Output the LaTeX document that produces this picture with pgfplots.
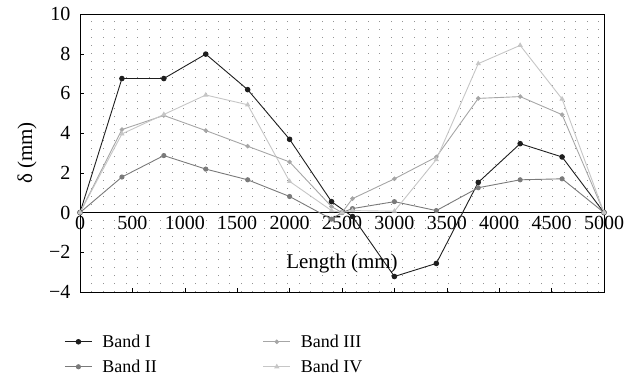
\documentclass[border=0pt]{standalone}
\usepackage{fontspec}
\setmainfont{Liberation Serif}
\usepackage{pgfplots}
\pgfplotsset{compat=1.18}
\definecolor{cI}{HTML}{1E1E1E}
\definecolor{cII}{HTML}{7A7A7A}
\definecolor{cIII}{HTML}{A6A6A6}
\definecolor{cIV}{HTML}{C6C6C6}
\begin{document}
\begin{tikzpicture}
\begin{axis}[
  scale only axis, width=524pt, height=278pt,
  xmin=0, xmax=5000, ymin=-4, ymax=10,
  xtick={0,500,...,5000}, ytick={-4,-2,...,10},
  yticklabels={−4,−2,0,2,4,6,8,10},
  minor xtick={110,220,...,4950},
  minor tick length=0pt,
  xminorgrids=true,
  minor grid style={gray!85, line width=0.9pt, dash pattern=on 0.9pt off 7.04pt},
  /pgf/number format/assume math mode=true,
  /pgf/number format/set thousands separator={},
  tick label style={font=\fontsize{20}{22}\selectfont},
  label style={font=\fontsize{21}{23}\selectfont},
  xticklabel style={yshift=79.4pt},
  yticklabel style={xshift=-6pt},
  tick pos=left,
  tick style={black, thin},
  axis line style={black, line width=0.9pt},
  extra y ticks={0}, extra y tick labels={},
  extra y tick style={grid=major, major grid style={black, solid, line width=0.8pt}},
  xlabel={Length (mm)},
  ylabel={δ (mm)},
  xlabel style={at={(axis description cs:0.5,0.104)}, anchor=center},
  ylabel style={at={(axis description cs:-0.101,0.5)}, anchor=center},
  legend columns=2,
  transpose legend,
  legend cell align=left,
  legend style={at={(axis description cs:-0.03,-0.146)}, anchor=north west,
    draw=none, fill=none, inner sep=0pt, font=\fontsize{18}{20}\selectfont,
    /tikz/every odd column/.append style={column sep=8pt},
    /tikz/every even column/.append style={column sep=104pt},
    row sep=7pt},
  legend image code/.code={\draw[mark repeat=2,mark phase=2,#1] plot coordinates {(0pt,0pt)(13.5pt,0pt)(27pt,0pt)};},
  every axis plot/.append style={line width=0.9pt},
]
\addplot[cI, mark=*, mark size=2.3pt] coordinates {
(0,0)(400,6.75)(800,6.75)(1200,7.98)(1600,6.19)(2000,3.69)(2400,0.55)(2600,-0.2)(3000,-3.22)(3400,-2.56)(3800,1.52)(4200,3.47)(4600,2.8)(5000,0)};
\addlegendentry{Band I}
\addplot[cII, mark=*, mark size=2.1pt] coordinates {
(0,0)(400,1.79)(800,2.87)(1200,2.19)(1600,1.65)(2000,0.81)(2400,-0.33)(2500,0)(2600,0.2)(3000,0.55)(3400,0.1)(3800,1.25)(4200,1.65)(4600,1.7)(5000,0)};
\addlegendentry{Band II}
\addplot[cIII, mark=*, mark size=1.8pt] coordinates {
(0,0)(400,4.18)(800,4.89)(1200,4.13)(1600,3.34)(2000,2.55)(2400,0.3)(2500,0)(2600,0.7)(3000,1.7)(3400,2.8)(3800,5.75)(4200,5.84)(4600,4.93)(5000,0)};
\addlegendentry{Band III}
\addplot[cIV, mark=triangle*, mark size=2.2pt] coordinates {
(0,0)(400,3.96)(800,4.94)(1200,5.92)(1600,5.43)(2000,1.57)(2400,0.1)(2500,0)(2600,0.1)(3000,0.07)(3400,2.67)(3800,7.5)(4200,8.42)(4600,5.72)(5000,0)};
\addlegendentry{Band IV}
\coordinate (SW) at (rel axis cs:0,0);
\coordinate (NE) at (rel axis cs:1,1);
\end{axis}
\pgfresetboundingbox
\path ([shift={(-80pt,-87pt)}]SW) rectangle ([shift={(33pt,14pt)}]NE);
\end{tikzpicture}
\end{document}
